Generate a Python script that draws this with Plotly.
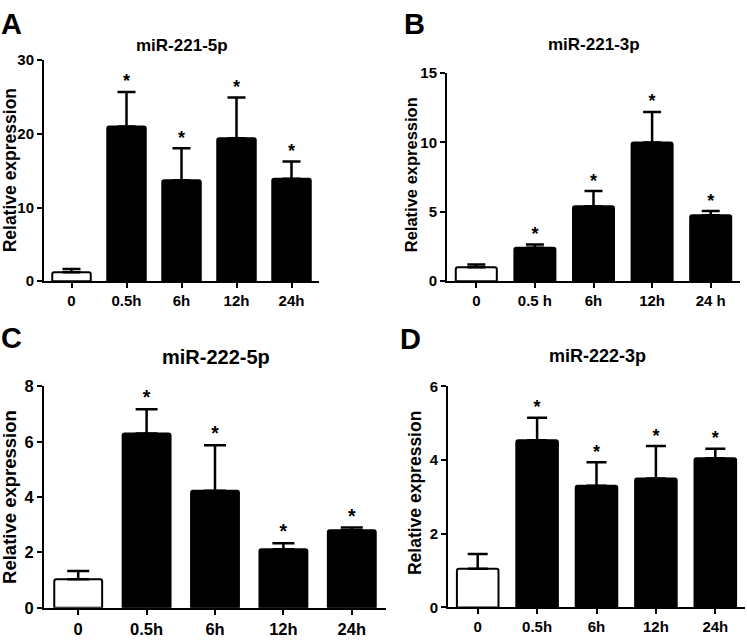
import plotly.graph_objects as go

W, H = 747, 642

# ---------------------------------------------------------
# datos
# ---------------------------------------------------------
cats_a = ["0", "0.5h", "6h", "12h", "24h"]
cats_b = ["0", "0.5 h", "6h", "12h", "24 h"]
cats_c = ["0", "0.5h", "6h", "12h", "24h"]
cats_d = ["0", "0.5h", "6h", "12h", "24h"]

mir221_5p = [1.2, 21.0, 13.7, 19.4, 13.9]
mir221_5p_err = [0.45, 4.7, 4.35, 5.55, 2.35]

mir221_3p = [1.0, 2.4, 5.4, 10.0, 4.75]
mir221_3p_err = [0.2, 0.25, 1.1, 2.2, 0.3]

mir222_5p = [1.03, 6.3, 4.23, 2.11, 2.8]
mir222_5p_err = [0.3, 0.87, 1.64, 0.22, 0.1]

mir222_3p = [1.05, 4.54, 3.3, 3.5, 4.05]
mir222_3p_err = [0.4, 0.61, 0.64, 0.88, 0.26]

titulos = ["miR-221-5p", "miR-221-3p", "miR-222-5p", "miR-222-3p"]
letras = ["A", "B", "C", "D"]
yticks = [[0, 10, 20, 30], [0, 5, 10, 15], [0, 2, 4, 6, 8], [0, 2, 4, 6]]

# ---------------------------------------------------------
# geometria de cada panel (pixeles)
# ---------------------------------------------------------
paneles = [
    dict(x0=44, x1=319, y0=52.7, y1=280, ymax=30, cap=9, fs=15, ts=17, ys=17.5,
         letra=(12, 15), titulo=(182, 38), ytit=(10, 166)),
    dict(x0=447, x1=740, y0=66, y1=280, ymax=15, cap=9, fs=15, ts=17, ys=16.5,
         letra=(414, 15), titulo=(594, 37), ytit=(411, 170)),
    dict(x0=44, x1=386, y0=388.3, y1=616, ymax=8, cap=11, fs=16.5, ts=20, ys=18.5,
         letra=(12, 338), titulo=(216, 358), ytit=(10, 502)),
    dict(x0=448, x1=745, y0=388.3, y1=615.7, ymax=6, cap=10, fs=15, ts=18, ys=17.5,
         letra=(410, 340), titulo=(597, 357), ytit=(415, 498)),
]

series = [
    (cats_a, mir221_5p, mir221_5p_err),
    (cats_b, mir221_3p, mir221_3p_err),
    (cats_c, mir222_5p, mir222_5p_err),
    (cats_d, mir222_3p, mir222_3p_err),
]

FONT = "Liberation Sans, Arial, sans-serif"


def px_x(v):
    return v / W


def px_y(v):
    return 1 - v / H


def texto(txt, pos, size, angle=0):
    return dict(
        text=txt, x=px_x(pos[0]), y=px_y(pos[1]),
        xref="paper", yref="paper", showarrow=False,
        xanchor="center", yanchor="middle", textangle=angle,
        font=dict(family=FONT, size=size, color="black", weight="bold")
    )


fig = go.Figure()
anotaciones = []
layout_axes = {}

for i, (p, (cats, vals, errs)) in enumerate(zip(paneles, series)):
    n = i + 1
    xa = "x" if n == 1 else f"x{n}"
    ya = "y" if n == 1 else f"y{n}"

    fig.add_trace(go.Bar(
        x=cats,
        y=vals,
        xaxis=xa,
        yaxis=ya,
        marker=dict(
            color=["white"] + ["black"] * (len(cats) - 1),
            line=dict(color="black", width=2),
            cornerradius=2
        ),
        error_y=dict(
            type="data",
            symmetric=False,
            array=errs,
            arrayminus=[0] * len(errs),
            color="black",
            thickness=2.5,
            width=p["cap"]
        ),
        showlegend=False
    ))

    # asteriscos de significancia
    tops = [v + e for v, e in zip(vals, errs)]
    fig.add_trace(go.Scatter(
        x=cats[1:],
        y=tops[1:],
        xaxis=xa,
        yaxis=ya,
        mode="text",
        text=["*"] * (len(cats) - 1),
        textposition="top center",
        textfont=dict(family=FONT, size=p["fs"] + 3, color="black", weight="bold"),
        cliponaxis=False,
        showlegend=False
    ))

    eje_x = dict(
        domain=[px_x(p["x0"]), px_x(p["x1"])],
        anchor=ya,
        range=[-0.5, len(cats) - 0.5],
        showline=True, linecolor="black", linewidth=2,
        ticks="outside", ticklen=5, tickwidth=2, tickcolor="black",
        tickfont=dict(family=FONT, size=p["fs"], color="black", weight="bold"),
        showgrid=False, zeroline=False, fixedrange=True
    )
    eje_y = dict(
        domain=[px_y(p["y1"]), px_y(p["y0"])],
        anchor=xa,
        range=[0, p["ymax"]],
        tickvals=yticks[i],
        showline=True, linecolor="black", linewidth=2,
        ticks="outside", ticklen=5, tickwidth=2, tickcolor="black",
        tickfont=dict(family=FONT, size=p["fs"], color="black", weight="bold"),
        showgrid=False, zeroline=False, fixedrange=True
    )
    layout_axes["xaxis" if n == 1 else f"xaxis{n}"] = eje_x
    layout_axes["yaxis" if n == 1 else f"yaxis{n}"] = eje_y

    anotaciones.append(texto(letras[i], p["letra"], 29))
    anotaciones.append(texto(titulos[i], p["titulo"], p["ts"]))
    anotaciones.append(texto("Relative expression", p["ytit"], p["ys"], angle=-90))

fig.update_layout(
    width=W,
    height=H,
    margin=dict(l=0, r=0, t=0, b=0),
    paper_bgcolor="white",
    plot_bgcolor="white",
    bargap=0.3,
    annotations=anotaciones,
    **layout_axes
)

# sin el margen por defecto del body para que la figura quede en (0, 0)
fig.write_html(
    "out.html",
    config={"displayModeBar": False},
    post_script="document.body.style.margin='0';"
)
